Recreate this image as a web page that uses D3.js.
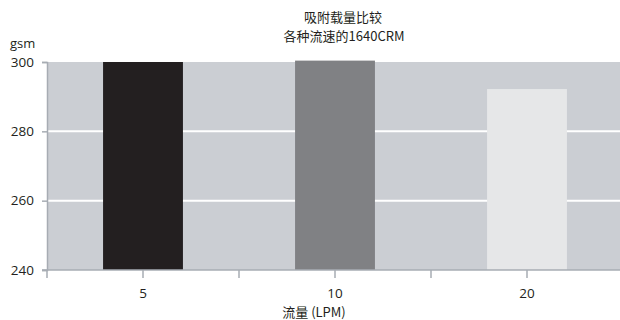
<!DOCTYPE html>
<html>
<head>
<meta charset="utf-8">
<script src="https://cdn.jsdelivr.net/npm/d3@7"></script>
<style>
  html, body { margin: 0; padding: 0; background: #fff; }
  svg { display: block; }
  text { font-family: "Open Sans", "Noto Sans CJK SC", sans-serif; fill: #231f20; }
</style>
</head>
<body>
<svg id="chart" width="620" height="320"></svg>
<script>
// Adsorption load by flow rate
const categories = ["5", "10", "20"];
const values = [300, 300.4, 292.2];
const barColors = ["#231f20", "#808184", "#e6e7e8"];
const yTicks = [240, 260, 280, 300];
const title = "吸附载量比较";
const subtitle = "各种流速的1640CRM";
const yUnit = "gsm";
const xTitle = "流量 (LPM)";

const svg = d3.select("#chart");
const plotL = 47, plotR = 623, plotT = 62, plotB = 270;

const x = d3.scaleBand().domain(categories).range([plotL, plotR]).padding(0);
const y = d3.scaleLinear().domain([240, 300]).range([plotB, plotT]);
const barW = x.bandwidth() * 0.416;

// plot background
svg.append("rect")
  .attr("x", plotL).attr("y", plotT)
  .attr("width", 620 - plotL).attr("height", plotB - plotT)
  .attr("fill", "#cbced3");

// horizontal grid lines
svg.append("g").selectAll("line")
  .data(yTicks.filter(t => t > 240 && t < 300))
  .join("line")
  .attr("x1", plotL).attr("x2", 620)
  .attr("y1", d => y(d)).attr("y2", d => y(d))
  .attr("stroke", "#ffffff").attr("stroke-width", 2);

// bars
svg.append("g").selectAll("rect")
  .data(categories)
  .join("rect")
  .attr("x", (d) => x(d) + x.bandwidth() / 2 - barW / 2)
  .attr("width", barW)
  .attr("y", (d, i) => y(values[i]))
  .attr("height", (d, i) => y(240) - y(values[i]))
  .attr("fill", (d, i) => barColors[i]);

// y axis
const axisColor = "#a7acb3";
const yAxis = svg.append("g")
  .attr("transform", `translate(${plotL},0)`)
  .call(d3.axisLeft(y).tickValues(yTicks).tickSize(5).tickPadding(8).tickFormat(d3.format("d")));
yAxis.select(".domain").attr("stroke", axisColor).attr("stroke-width", 1.5);
yAxis.selectAll(".tick line").attr("stroke", axisColor).attr("stroke-width", 1.5);
yAxis.selectAll(".tick text")
  .style("font-family", "'Open Sans', sans-serif")
  .attr("font-size", 13.5).attr("fill", "#231f20");

// x axis: ticks at band boundaries and at band centres
const xg = svg.append("g");
xg.append("line")
  .attr("x1", plotL - 5).attr("x2", 620)
  .attr("y1", plotB).attr("y2", plotB)
  .attr("stroke", axisColor).attr("stroke-width", 1.5);
const boundaries = categories.map(c => x(c)).concat([x(categories[categories.length - 1]) + x.bandwidth()]);
const centers = categories.map(c => x(c) + x.bandwidth() / 2);
xg.selectAll("line.tk")
  .data(boundaries.concat(centers))
  .join("line")
  .attr("class", "tk")
  .attr("x1", d => d).attr("x2", d => d)
  .attr("y1", plotB).attr("y2", plotB + 8)
  .attr("stroke", axisColor).attr("stroke-width", 1.5);
xg.selectAll("text")
  .data(categories)
  .join("text")
  .attr("x", d => x(d) + x.bandwidth() / 2)
  .attr("y", 298)
  .attr("text-anchor", "middle")
  .attr("font-size", 13.5)
  .text(d => d);

// titles and labels
svg.append("text").attr("x", 343).attr("y", 22).attr("text-anchor", "middle")
  .attr("font-size", 13).style("font-family", "'Noto Sans CJK SC', sans-serif").text(title);
svg.append("text").attr("x", 344).attr("y", 41).attr("text-anchor", "middle")
  .attr("font-size", 13).style("font-family", "'Noto Sans CJK SC', sans-serif").text(subtitle);
svg.append("text").attr("x", 10).attr("y", 48)
  .attr("font-size", 13).text(yUnit);
svg.append("text").attr("x", 314).attr("y", 317).attr("text-anchor", "middle")
  .attr("font-size", 13).style("font-family", "'Noto Sans CJK SC', sans-serif").text(xTitle);
</script>
</body>
</html>
